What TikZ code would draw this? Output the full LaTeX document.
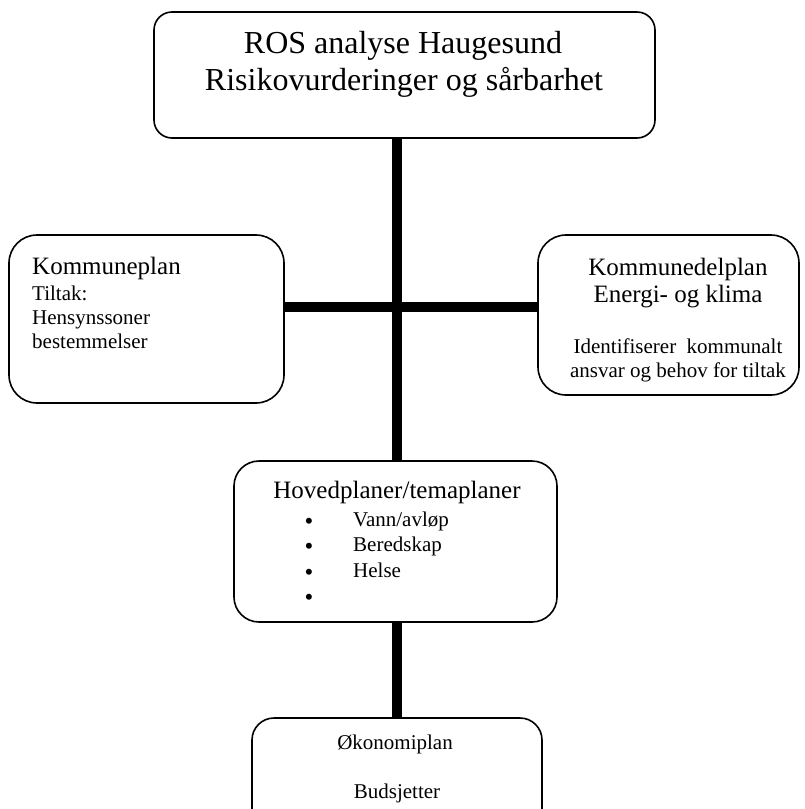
\documentclass[tikz,border=0pt]{standalone}
\usepackage{fontspec}
\setmainfont{Liberation Serif}
\begin{document}
\begin{tikzpicture}[x=1pt,y=-1pt,
  box/.style={draw,line width=1.6pt,inner sep=0pt},
  conn/.style={line width=10pt,line cap=butt},
  big/.style={inner sep=0pt,anchor=base,font=\fontsize{32}{37}\selectfont},
  mid/.style={inner sep=0pt,anchor=base,font=\fontsize{25}{28}\selectfont},
  small/.style={inner sep=0pt,anchor=base,font=\fontsize{21}{24}\selectfont},
  bul/.style={inner sep=0pt,anchor=base,font=\fontsize{25}{28}\selectfont},
]
\path[use as bounding box,clip] (0,0) rectangle (804,809);

% boxes
\node[box,rounded corners=18pt,minimum width=501pt,minimum height=126pt] (top) at (404.5,75) {};
\node[box,rounded corners=28pt,minimum width=275pt,minimum height=168pt] (left) at (146.5,319) {};
\node[box,rounded corners=28pt,minimum width=261pt,minimum height=160pt] (right) at (668.5,315) {};
\node[box,rounded corners=25pt,minimum width=323pt,minimum height=161pt] (hov) at (395.5,541.5) {};
\node[box,rounded corners=22pt,minimum width=290pt,minimum height=132pt] (bot) at (397,784) {};

% connectors
\coordinate (stem) at (397,0);
\coordinate (cross) at (397,307);
\draw[conn] (stem |- top.south) -- (stem |- hov.north);
\draw[conn] (stem |- hov.south) -- (stem |- bot.north);
\draw[conn] (left.east |- cross) -- (right.west |- cross);

% top text
\node[big] (t1) at (403,53) {ROS analyse Haugesund};
\node[big] (t2) at (404,90) {Risikovurderinger og sårbarhet};

% left text
\node[mid,anchor=base west] (l1) at (32,274) {Kommuneplan};
\node[small,anchor=base west] (l2) at (32,300) {Tiltak:};
\node[small,anchor=base west] (l3) at (32,324) {Hensynssoner};
\node[small,anchor=base west] (l4) at (32,348) {bestemmelser};

% right text
\node[mid] (r1) at (678,275) {Kommunedelplan};
\node[mid] (r2) at (678,302) {Energi- og klima};
\node[small] (r3) at (678,353) {Identifiserer~ kommunalt};
\node[small] (r4) at (678,377) {ansvar og behov for tiltak};

% middle text
\node[mid] (h0) at (397,498) {Hovedplaner/temaplaner};
\foreach \yy/\txt [count=\i] in {526/{Vann/avløp},551/{Beredskap},577/{Helse},602/{}} {
  \node[bul] (b\i) at (309,\yy+3) {\textbullet};
  \node[small,anchor=base west] (h\i) at (353,\yy) {\txt};
}

% bottom text
\node[small] (o1) at (395,749) {Økonomiplan};
\node[small] (o2) at (397,798) {Budsjetter};
\end{tikzpicture}
\end{document}
